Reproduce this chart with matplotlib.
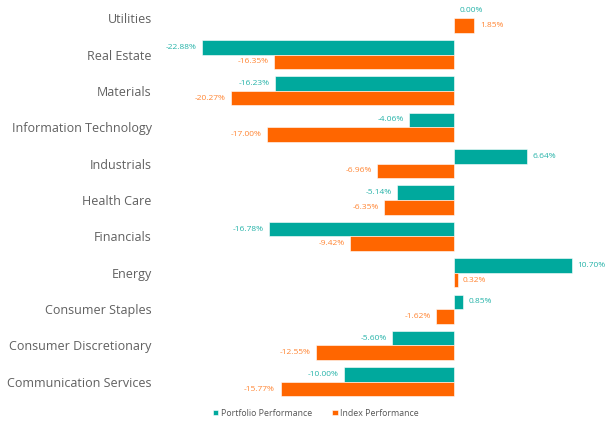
import numpy as np
import matplotlib
matplotlib.use("Agg")
import matplotlib.pyplot as plt

# sector names (top to bottom in the chart)
sectors = ['Utilities', 'Real Estate', 'Materials', 'Information Technology',
           'Industrials', 'Health Care', 'Financials', 'Energy',
           'Consumer Staples', 'Consumer Discretionary', 'Communication Services']
portfolio = [0.00, -22.88, -16.23, -4.06, 6.64, -5.14, -16.78, 10.70, 0.85, -5.60, -10.00]
index_perf = [1.85, -16.35, -20.27, -17.00, -6.96, -6.35, -9.42, 0.32, -1.62, -12.55, -15.77]

teal = '#00A99D'
orange = '#FF6600'

plt.rcParams['font.family'] = ['Open Sans', 'DejaVu Sans']

fig = plt.figure(figsize=(6.06, 4.24), dpi=100)
# axes placed so zero line sits near x=454 px
ax = fig.add_axes([160/606, 24/424, 440/606, 400/424])

n = len(sectors)
y = np.arange(n)[::-1]
h = 0.4

ax.barh(y + h/2, portfolio, height=h, color=teal, edgecolor='white', linewidth=0.4,
        label='Portfolio Performance')
ax.barh(y - h/2, index_perf, height=h, color=orange, edgecolor='white', linewidth=0.4,
        label='Index Performance')

# value labels next to bar ends
def add_labels(vals, offset, color):
    for yi, v in zip(y, vals):
        if v >= 0:
            ax.text(v + 0.5, yi + offset, f'{v:.2f}%', ha='left', va='center',
                    fontsize=6, color=color)
        else:
            ax.text(v - 0.5, yi + offset, f'{v:.2f}%', ha='right', va='center',
                    fontsize=6, color=color)

add_labels(portfolio, h/2, '#26B3A9')
add_labels(index_perf, -h/2, '#FF8533')

ax.set_xlim(-(454-160)/11, (600-454)/11)
ax.set_ylim(-0.5, 10.5)
ax.set_yticks(y)
ax.set_yticklabels(sectors, fontsize=9, color='#606060')
ax.tick_params(axis='y', length=0, pad=6)
ax.set_xticks([])
for s in ax.spines.values():
    s.set_visible(False)

fig.legend(loc='center', bbox_to_anchor=(316/606, 1 - 413/424), ncol=2, frameon=False,
           fontsize=6.3, handlelength=0.6, handleheight=0.6, handletextpad=0.3,
           columnspacing=2.3, labelcolor='#555555')

fig.savefig('out.png', dpi=100)
